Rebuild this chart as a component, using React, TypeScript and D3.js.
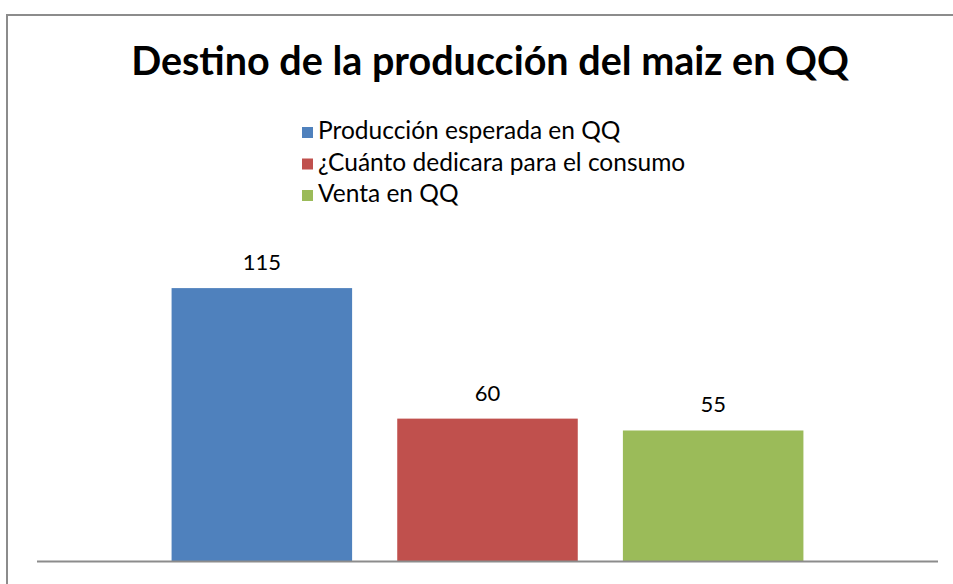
import * as d3 from "d3";
import { useEffect, useRef } from "react";

// datos del grafico
const series = ["Producción esperada en QQ", "¿Cuánto dedicara para el consumo", "Venta en QQ"];
const values = [115, 60, 55];
const colors = ["#4F81BD", "#C0504D", "#9BBB59"];
const categories = [""];
const title = "Destino de la producción del maiz en QQ";

function BarChart() {
    const ref = useRef<SVGSVGElement>(null);

    useEffect(() => {
        const svg = d3.select(ref.current);
        svg.selectAll("*").remove();

        const width = 953;
        const height = 584;
        const font = "Lato, 'Open Sans', sans-serif";

        svg.attr("width", width).attr("height", height);

        // marco del grafico (el borde derecho y el inferior quedan fuera)
        svg
            .append("path")
            .attr("d", `M7,${height} V15 H${width}`)
            .attr("fill", "none")
            .attr("stroke", "#8c8c8c")
            .attr("stroke-width", 2);

        // titulo
        svg
            .append("text")
            .attr("x", 490)
            .attr("y", 75)
            .attr("text-anchor", "middle")
            .style("font-family", font)
            .style("font-weight", "bold")
            .style("font-size", "39.5px")
            .attr("fill", "#000")
            .text(title);

        // leyenda
        const legend = svg
            .append("g")
            .attr("transform", "translate(302, 139)");

        const items = legend
            .selectAll("g")
            .data(series)
            .enter()
            .append("g")
            .attr("transform", (d, i) => `translate(0, ${i * 31.5})`);

        items
            .append("rect")
            .attr("x", 0)
            .attr("y", -12)
            .attr("width", 11)
            .attr("height", 11)
            .attr("fill", (d, i) => colors[i]);

        items
            .append("text")
            .attr("x", 16)
            .attr("y", 0)
            .style("font-family", font)
            .style("font-size", "24.5px")
            .attr("fill", "#000")
            .text((d) => d);

        // escalas
        const x0 = d3
            .scaleBand()
            .domain(categories)
            .range([37, 938])
            .paddingInner(0)
            .paddingOuter(0.213);

        const x1 = d3
            .scaleBand()
            .domain(series)
            .range([0, x0.bandwidth()])
            .paddingInner(0.2);

        const y = d3
            .scaleLinear()
            .domain([0, 140])
            .range([561, 561 - 140 * 2.373]);

        const g = svg
            .append("g")
            .attr("transform", `translate(${x0(categories[0])}, 0)`);

        // barras
        g.selectAll("rect")
            .data(values)
            .enter()
            .append("rect")
            .attr("x", (d, i) => x1(series[i]))
            .attr("y", (d) => y(d))
            .attr("width", x1.bandwidth())
            .attr("height", (d) => y(0) - y(d))
            .attr("fill", (d, i) => colors[i]);

        // etiquetas de datos
        g.selectAll(".label")
            .data(values)
            .enter()
            .append("text")
            .attr("class", "label")
            .attr("x", (d, i) => x1(series[i]) + x1.bandwidth() / 2)
            .attr("y", (d) => y(d) - 18)
            .attr("text-anchor", "middle")
            .style("font-family", font)
            .style("font-size", "22px")
            .attr("fill", "#000")
            .text((d) => d);

        // eje horizontal
        svg
            .append("line")
            .attr("x1", 37)
            .attr("x2", 938)
            .attr("y1", y(0) + 0.5)
            .attr("y2", y(0) + 0.5)
            .attr("stroke", "#8c8c8c")
            .attr("stroke-width", 2);
    }, []);

    return <svg ref={ref} style={{ position: "absolute", left: 0, top: 0 }}></svg>;
}

export default function App() {
    return <BarChart />;
}
